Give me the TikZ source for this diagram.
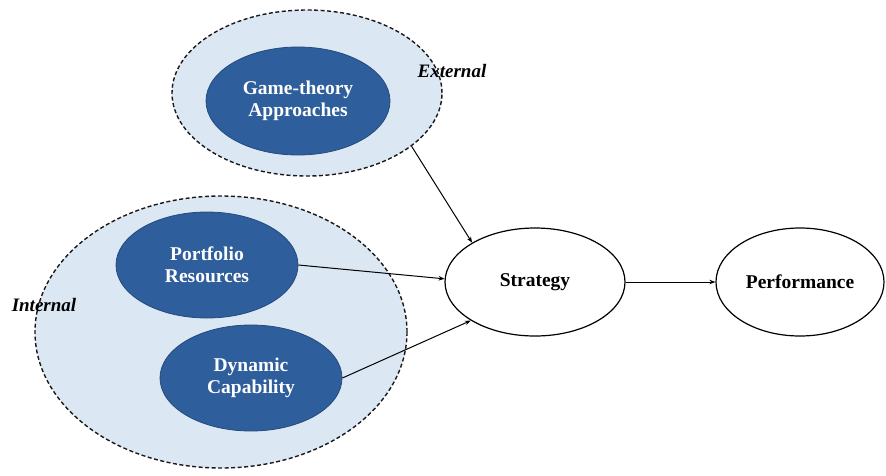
\documentclass[tikz,border=0pt]{standalone}
\usepackage{fontspec}
\setmainfont{Liberation Serif}
\usetikzlibrary{shapes.geometric,arrows.meta}
\definecolor{darkblue}{HTML}{2E5E9B}
\definecolor{paleblue}{HTML}{DCE7F4}
\tikzset{
  groupring/.style={ellipse, draw=black!90, line width=1.4pt, dash pattern=on 4pt off 2.5pt, fill=paleblue, inner sep=0pt},
  factor/.style={ellipse, fill=darkblue, draw=darkblue!80!black, line width=0.8pt, inner sep=0pt, text=white,
    font=\bfseries\fontsize{19.5}{22}\selectfont, align=center},
  outcome/.style={ellipse, draw=black, line width=1.2pt, fill=white, inner sep=0pt,
    font=\bfseries\fontsize{19.5}{22}\selectfont},
  grouplabel/.style={font=\bfseries\itshape\fontsize{19}{22}\selectfont},
  link/.style={line width=1pt, -{Stealth[length=6pt,width=4.5pt]}}
}
\begin{document}
\begin{tikzpicture}[x=1pt,y=-1pt]
\useasboundingbox (0,0) rectangle (886,475);
% outer groupings
\node[groupring, minimum width=270pt, minimum height=166pt] (ext) at (307,93) {};
\node[groupring, minimum width=372pt, minimum height=272pt] (int) at (221,332) {};
% factors
\node[factor, minimum width=184pt, minimum height=108pt] (game) at (298,101) {Game-theory\\Approaches};
\node[factor, minimum width=182pt, minimum height=106pt] (port) at (207,265) {Portfolio\\Resources};
\node[factor, minimum width=182pt, minimum height=106pt] (dyn) at (251,378) {Dynamic\\Capability};
% group labels
\node[grouplabel] (extlbl) at (452,71) {External};
\node[grouplabel] (intlbl) at (44,305) {Internal};
% outcomes
\node[outcome, minimum width=180pt, minimum height=108pt] (strat) at (535,282) {Strategy};
\node[outcome, minimum width=168pt, minimum height=108pt] (perf) at (800,282) {Performance};
% connectors
\draw[link] (ext.-27) -- (strat.148);
\draw[link] (port.0) -- (strat.178);
\draw[link] (dyn.0) -- (strat.211);
\draw[link] (strat.east) -- (perf.west);
\end{tikzpicture}
\end{document}
